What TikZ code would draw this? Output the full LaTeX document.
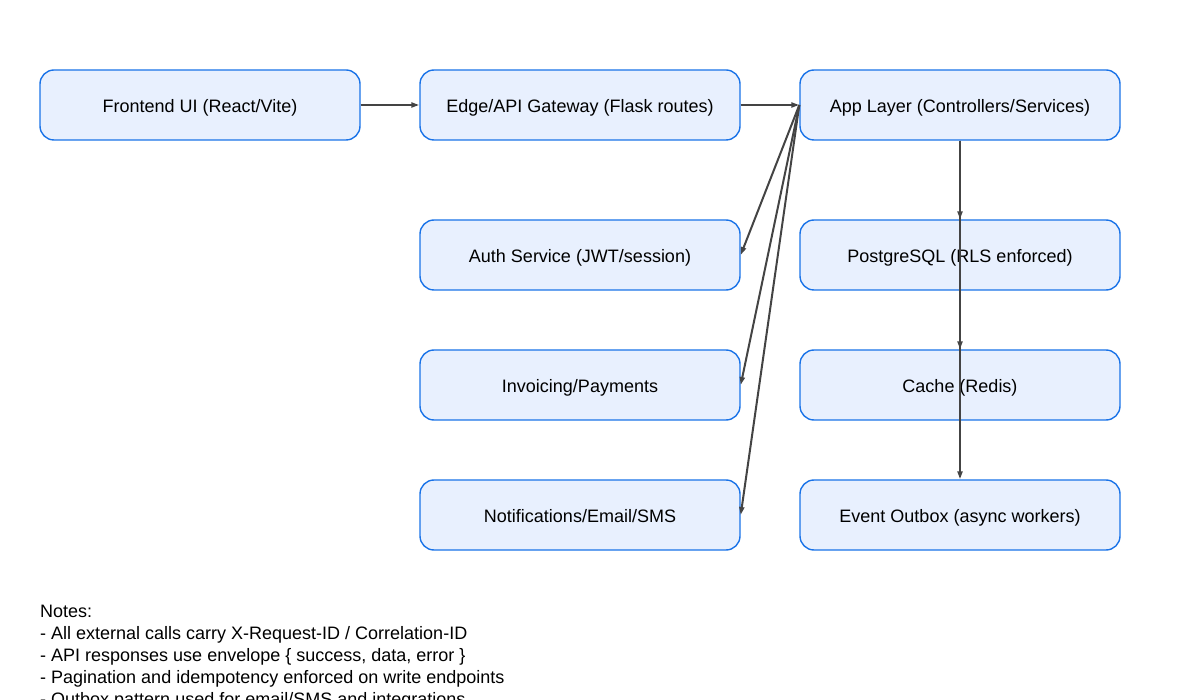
\documentclass[tikz,border=0pt]{standalone}
\usepackage{fontspec}
\setmainfont{Liberation Sans}
\usepackage{xcolor}
\usetikzlibrary{arrows.meta}

\definecolor{boxblue}{HTML}{1A73E8}
\definecolor{boxfill}{HTML}{E8F0FE}
\definecolor{linkgray}{HTML}{444444}

\begin{document}
\begin{tikzpicture}[x=1pt,y=-1pt,
    box/.style={draw=boxblue,fill=boxfill,line width=1.4pt,rounded corners=14pt,
      minimum width=320pt,minimum height=70pt,text height=19.5pt,text depth=4pt,
      font=\fontsize{18}{21}\selectfont},
    link/.style={draw=linkgray,line width=2pt,-{Triangle[length=8pt,width=5pt]}},
    note/.style={anchor=base west,inner sep=0pt,font=\fontsize{18}{21}\selectfont}]
                \clip (0,0) rectangle (1200,700);
                \useasboundingbox (0,0) rectangle (1200,700);

                % Services
                \node[box] (frontend) at (200,105) {Frontend UI (React/Vite)};
                \node[box] (gateway) at (580,105) {Edge/API Gateway (Flask routes)};
                \node[box] (applayer) at (960,105) {App Layer (Controllers/Services)};
                \node[box] (auth) at (580,255) {Auth Service (JWT/session)};
                \node[box] (invoicing) at (580,385) {Invoicing/Payments};
                \node[box] (notify) at (580,515) {Notifications/Email/SMS};

                % Storage
                \node[box] (postgres) at (960,255) {PostgreSQL (RLS enforced)};
                \node[box] (cache) at (960,385) {Cache (Redis)};
                \node[box] (outbox) at (960,515) {Event Outbox (async workers)};

                % Request path
                \draw[link] (frontend.east) -- (gateway.west);
                \draw[link] (gateway.east) -- (applayer.west);

                % Calls to services
                \draw[link] (applayer.west) -- (auth.east);
                \draw[link] (applayer.west) -- (invoicing.east);
                \draw[link] (applayer.west) -- (notify.east);

                % Calls to storage
                \draw[link] (applayer.south) -- (postgres.north);
                \draw[link] (applayer.south) -- (cache.north);
                \draw[link] (applayer.south) -- (outbox.north);

                % Notes
                \node[note] (notes) at (40,617) {Notes:};
                \node[note] (note1) at (40,639) {- All external calls carry X-Request-ID / Correlation-ID};
                \node[note] (note2) at (40,661) {- API responses use envelope \{ success, data, error \}};
                \node[note] (note3) at (40,683) {- Pagination and idempotency enforced on write endpoints};
                \node[note] (note4) at (40,705) {- Outbox pattern used for email/SMS and integrations};
            \end{tikzpicture}
\end{document}
